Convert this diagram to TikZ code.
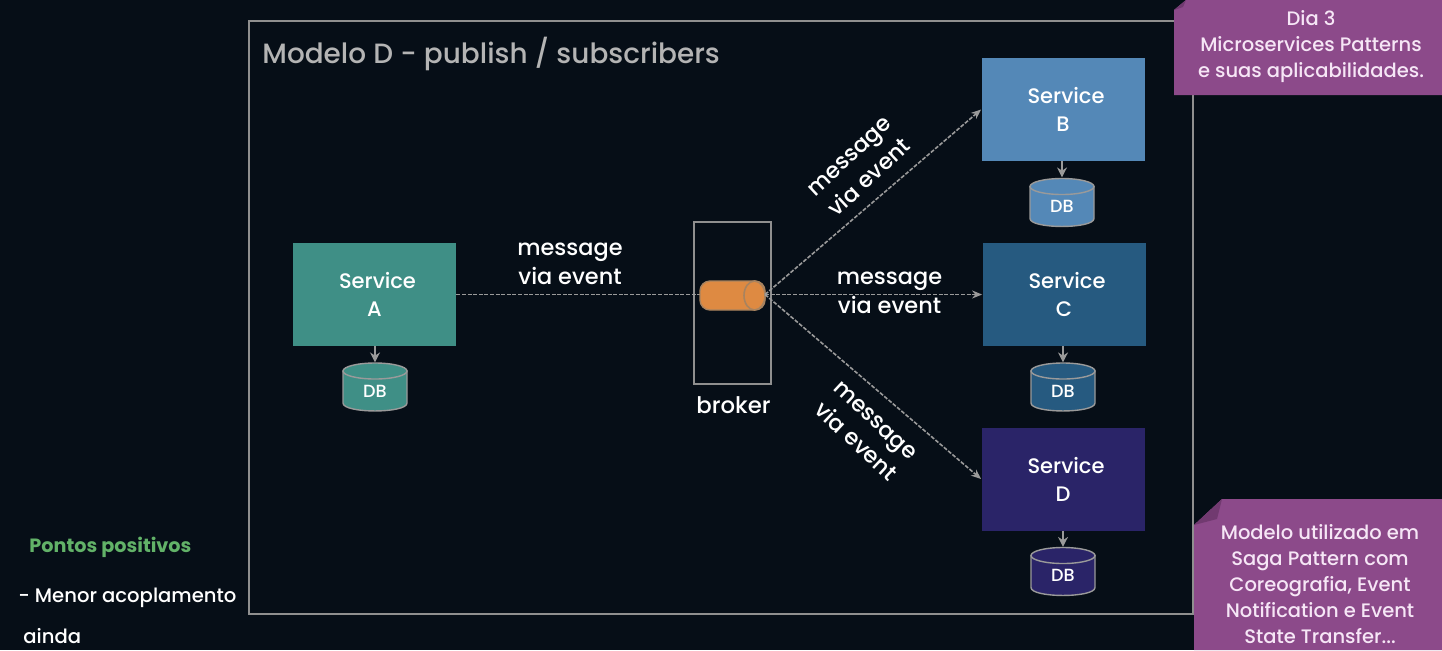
\documentclass[tikz,border=0pt]{standalone}
\usepackage{fontspec}
\setmainfont{Poppins}
\newfontfamily\medf{Poppins Medium}
\usetikzlibrary{arrows.meta}
\definecolor{bgc}{HTML}{060E17}
\definecolor{linec}{HTML}{9A9A9A}
\definecolor{framec}{HTML}{8F8F8F}
\definecolor{titlec}{HTML}{B4B4B4}
\definecolor{ca}{HTML}{3F8F86}
\definecolor{cb}{HTML}{5488B7}
\definecolor{cc}{HTML}{265A80}
\definecolor{cd}{HTML}{2A2468}
\definecolor{notec}{HTML}{8C4A8A}
\definecolor{foldc}{HTML}{713A70}
\definecolor{notet}{HTML}{F6E6F6}
\definecolor{greenc}{HTML}{62B268}
\definecolor{brokc}{HTML}{DE8A42}
\definecolor{brokl}{HTML}{A8835F}
\newcommand{\dbdraw}[3]{%
  \begin{scope}[shift={(#1)}]
    \draw[linec,line width=0.7pt,fill=#2] (-32,-16) -- (-32,16) .. controls (-32,26.6) and (32,26.6) .. (32,16) -- (32,-16) -- cycle;
    \draw[linec,line width=0.7pt,fill=#2] (0,-16) ellipse [x radius=32,y radius=8];
  \end{scope}
  \node[dbt] (#3) at (#1) {DB};}
\tikzset{
  svc/.style={draw=none,fill=#1,minimum width=81.5pt,minimum height=51.5pt,inner sep=0pt,text=white,align=center,font=\medf\fontsize{10.5}{14}\selectfont},
  dbt/.style={text=white,inner sep=0pt,yshift=-2pt,font=\medf\fontsize{8.8}{11}\selectfont},
  lbl/.style={text=white,align=center,font=\medf\fontsize{11.2}{14.5}\selectfont,inner sep=0pt},
  dlink/.style={draw=linec,line width=0.8pt,dash pattern=on 2pt off 0.8pt},
  dhead/.style={dlink,-{Stealth[length=5pt,width=4pt,fill=linec]}},
  stub/.style={draw=linec,line width=1pt,-{Stealth[length=5pt,width=5pt,fill=linec]}},
  notet/.style={text=notet,align=center,inner sep=0pt,font=\medf\fontsize{9.75}{13}\selectfont},
  sidet/.style={text=white,anchor=west,inner sep=0pt,font=\medf\fontsize{9.8}{13}\selectfont}
}
\begin{document}
\begin{tikzpicture}[x=0.5pt,y=-0.5pt]
\useasboundingbox (0,0) rectangle (1442,650);
\fill[bgc] (0,0) rectangle (1442,650);
\node[draw=framec,line width=1pt,minimum width=472pt,minimum height=296.5pt,inner sep=0pt] (frame) at (721,317.5) {};
\node[text=titlec,anchor=west,inner sep=0pt,font=\medf\fontsize{13.95}{18}\selectfont] (title) at (262,54) {Modelo D - publish / subscribers};
\node[svc=ca,text depth=0pt] (A) at (374.5,294.5) {\hspace*{3pt}Service\\A};
\node[svc=cb] (B) at (1063,109.5) {\hspace*{3pt}Service\\B};
\node[svc=cc] (C) at (1064,294.5) {\hspace*{3pt}Service\\C};
\node[svc=cd] (D) at (1063,479) {\hspace*{3pt}Service\\D};
\dbdraw{375,387}{ca}{dba}
\dbdraw{1062,202.5}{cb}{dbb}
\dbdraw{1063,387}{cc}{dbc}
\dbdraw{1063,571.5}{cd}{dbd}
\draw[stub] (A.south -| dba) -- ++(0,16);
\draw[stub] (B.south -| dbb) -- ++(0,16);
\draw[stub] (C.south -| dbc) -- ++(0,16);
\draw[stub] (D.south -| dbd) -- ++(0,16);
\node[draw=framec,line width=1pt,minimum width=38.5pt,minimum height=81pt,inner sep=0pt] (broker) at (732.5,303) {};
\node[text=white,inner sep=0pt,font=\medf\fontsize{11.4}{14}\selectfont] (brokerlabel) at (733.5,405.5) {broker};
\draw[dlink] (A.east) -- (700,294.5) coordinate (qin);
\node[rectangle,rounded corners=5pt,draw=brokl,line width=0.7pt,fill=brokc,minimum width=32.5pt,minimum height=14.5pt,inner sep=0pt] (queue) at (732.5,295.5) {};
\draw[brokl,line width=0.8pt,fill=brokc] (754.5,295.5) ellipse [x radius=10.5,y radius=14.5];
\coordinate (qout) at (765,294.5);
\draw[dhead] (qout) -- (B.west);
\draw[dhead] (qout) -- (C.west);
\draw[dhead] (qout) -- (D.west);
\node[lbl] (m1) at (570,264) {message\\via event};
\node[lbl] (m2) at (889.5,293) {message\\via event};
\node[lbl,rotate=43] (m3) at (860,167.5) {message\\via event};
\node[lbl,rotate=-43] (m4) at (865,431.5) {message\\via event};
\fill[notec] (1174,95) -- (1442,95) -- (1442,0) -- (1186,0) -- (1174,10) -- cycle;
\fill[foldc] (1174,10) -- (1186,0) -- (1183,7) -- cycle;
\node[notet] (n1) at (1311,46.5) {Dia 3\\Microservices Patterns\\e suas aplicabilidades.};
\fill[notec] (1194,650) -- (1442,650) -- (1442,499) -- (1222,499) -- (1194,525) -- cycle;
\fill[foldc] (1194,525) -- (1222,499) -- (1217,519) -- cycle;
\node[notet] (n2) at (1320,584) {Modelo utilizado em\\Saga Pattern com\\Coreografia, Event\\Notification e Event\\State Transfer...};
\node[sidet,text=greenc,font=\bfseries\fontsize{9.6}{13}\selectfont] (p1) at (29,547) {Pontos positivos};
\node[sidet] (p2) at (18,598) {- Menor acoplamento};
\node[sidet] (p3) at (23,636) {ainda};
\end{tikzpicture}
\end{document}
